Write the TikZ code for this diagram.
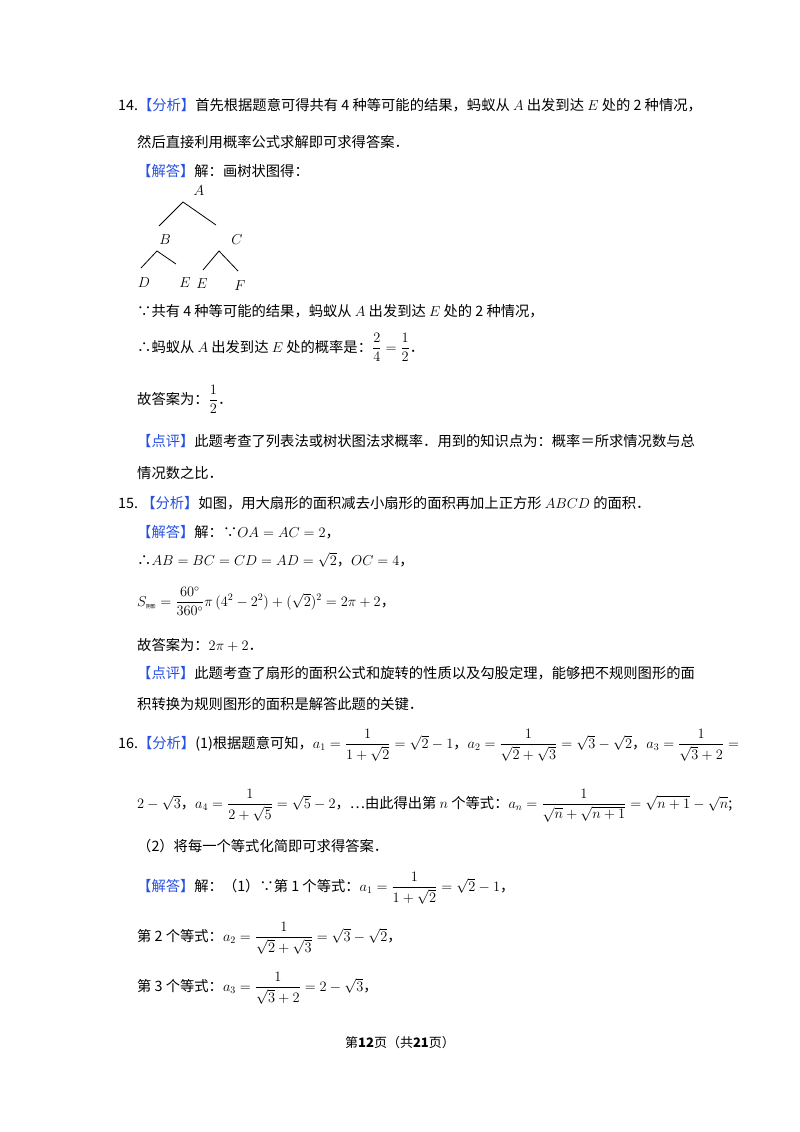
\documentclass[tikz,border=0pt]{standalone}
\usepackage{amsmath}
\usepackage{fontspec}
\newfontfamily\cjk{Noto Sans CJK SC}
\definecolor{hb}{RGB}{40,80,225}
\begin{document}
\begin{tikzpicture}[x=1pt,y=-1pt,
  txt/.style={anchor=base west,inner sep=0pt,font=\cjk\fontsize{14.3}{16}\selectfont},
  lt/.style={inner sep=0pt,font=\fontsize{14.5}{16}\selectfont},
  br/.style={line width=0.8pt}]
\useasboundingbox[fill=white] (0,0) rectangle (800,1132);
\newcommand{\hl}[1]{\textcolor{hb}{#1}}
% 14
\node[txt] (l1) at (118,110) {14.\hl{【分析】}首先根据题意可得共有 4 种等可能的结果，蚂蚁从 $A$ 出发到达 $E$ 处的 2 种情况，};
\node[txt] (l2) at (137,147) {然后直接利用概率公式求解即可求得答案．};
\node[txt] (l3) at (137,176) {\hl{【解答】}解：画树状图得：};
% tree
\node[lt] (A) at (199,191) {$A$};
\node[lt] (B) at (165,240) {$B$};
\node[lt] (C) at (237,240) {$C$};
\node[lt] (D) at (144,283) {$D$};
\node[lt] (E1) at (185,283) {$E$};
\node[lt] (E2) at (202,284) {$E$};
\node[lt] (F) at (240,286) {$F$};
\coordinate (a0) at (183,202); \coordinate (a1) at (159,226); \coordinate (a2) at (216,225);
\coordinate (b0) at (157,251); \coordinate (b1) at (141,268); \coordinate (b2) at (176,264);
\coordinate (c0) at (219,251); \coordinate (c1) at (203,270); \coordinate (c2) at (238,271);
\draw[br] (a1)--(a0)--(a2);
\draw[br] (b1)--(b0)--(b2);
\draw[br] (c1)--(c0)--(c2);
\node[txt] (l4) at (137,316) {∵共有 4 种等可能的结果，蚂蚁从 $A$ 出发到达 $E$ 处的 2 种情况，};
\node[txt] (l5) at (137,352) {∴蚂蚁从 $A$ 出发到达 $E$ 处的概率是：$\dfrac{2}{4}=\dfrac{1}{2}$．};
\node[txt] (l6) at (137,404) {故答案为：$\dfrac{1}{2}$．};
\node[txt] (l7) at (137,446) {\hl{【点评】}此题考查了列表法或树状图法求概率．用到的知识点为：概率＝所求情况数与总};
\node[txt] (l8) at (137,478) {情况数之比．};
% 15
\node[txt] (m1) at (118,508) {15.\ \hl{【分析】}如图，用大扇形的面积减去小扇形的面积再加上正方形 $ABCD$ 的面积．};
\node[txt] (m2) at (137,537) {\hl{【解答】}解：∵$OA=AC=2$，};
\node[txt] (m3) at (137,565) {∴$AB=BC=CD=AD=\sqrt{2}$，$OC=4$，};
\node[txt] (m4) at (137,606) {$S_{\text{\cjk\tiny 阴影}}=\dfrac{60^\circ}{360^\circ}\pi\,(4^2-2^2)+(\sqrt{2})^2=2\pi+2$，};
\node[txt] (m5) at (137,650) {故答案为：$2\pi+2$．};
\node[txt] (m6) at (137,678) {\hl{【点评】}此题考查了扇形的面积公式和旋转的性质以及勾股定理，能够把不规则图形的面};
\node[txt] (m7) at (137,709) {积转换为规则图形的面积是解答此题的关键．};
% 16
\node[txt] (n1) at (118,748) {16.\hl{【分析】}(1)根据题意可知，$a_1=\dfrac{1}{1+\sqrt2}=\sqrt2-1$，$a_2=\dfrac{1}{\sqrt2+\sqrt3}=\sqrt3-\sqrt2$，$a_3=\dfrac{1}{\sqrt3+2}=$};
\node[txt] (n2) at (137,808) {$2-\sqrt3$，$a_4=\dfrac{1}{2+\sqrt5}=\sqrt5-2$，…由此得出第 $n$ 个等式：$a_n=\dfrac{1}{\sqrt n+\sqrt{n+1}}=\sqrt{n+1}-\sqrt n$;};
\node[txt] (n3) at (137,851) {（2）将每一个等式化简即可求得答案．};
\node[txt] (n4) at (137,891) {\hl{【解答】}解：（1）∵第 1 个等式：$a_1=\dfrac{1}{1+\sqrt2}=\sqrt2-1$，};
\node[txt] (n5) at (137,941) {第 2 个等式：$a_2=\dfrac{1}{\sqrt2+\sqrt3}=\sqrt3-\sqrt2$，};
\node[txt] (n6) at (137,991) {第 3 个等式：$a_3=\dfrac{1}{\sqrt3+2}=2-\sqrt3$，};
\node[anchor=base,inner sep=0pt,font=\cjk\fontsize{13}{15}\selectfont] (ft) at (400,1047) {第\textbf{12}页（共\textbf{21}页）};
\end{tikzpicture}
\end{document}
